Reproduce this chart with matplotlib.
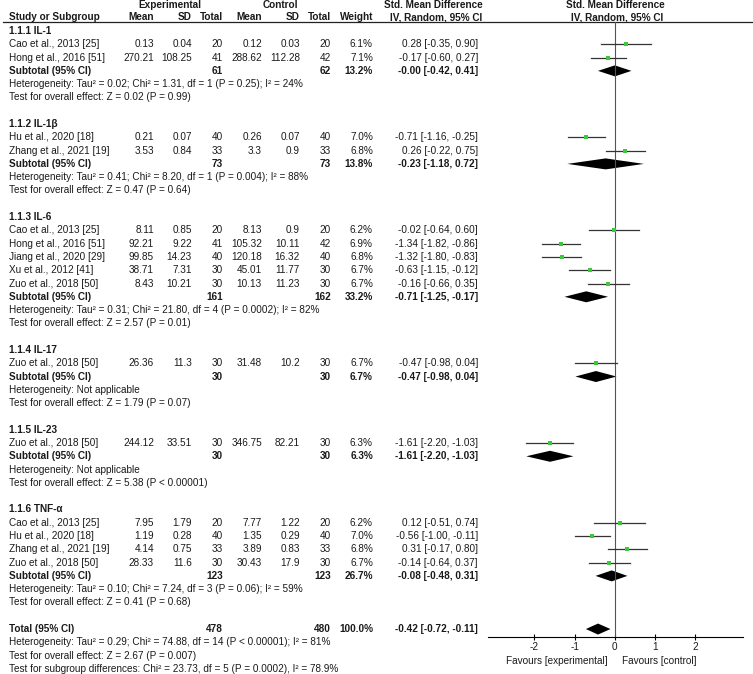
import numpy as np
import matplotlib.pyplot as plt

plt.rcParams['font.family'] = ['Liberation Sans', 'DejaVu Sans']

# subgroup data
grp_names = ['1.1.1 IL-1', '1.1.2 IL-1β', '1.1.3 IL-6', '1.1.4 IL-17', '1.1.5 IL-23', '1.1.6 TNF-α']
grp_n_exp = [61, 73, 161, 30, 30, 123]
grp_n_ctl = [62, 73, 162, 30, 30, 123]
grp_weight = [13.2, 13.8, 33.2, 6.7, 6.3, 26.7]
grp_smd = [-0.0, -0.23, -0.71, -0.47, -1.61, -0.08]
grp_lo = [-0.42, -1.18, -1.25, -0.98, -2.20, -0.48]
grp_hi = [0.41, 0.72, -0.17, 0.04, -1.03, 0.31]
grp_het = [
    'Heterogeneity: Tau² = 0.02; Chi² = 1.31, df = 1 (P = 0.25); I² = 24%',
    'Heterogeneity: Tau² = 0.41; Chi² = 8.20, df = 1 (P = 0.004); I² = 88%',
    'Heterogeneity: Tau² = 0.31; Chi² = 21.80, df = 4 (P = 0.0002); I² = 82%',
    'Heterogeneity: Not applicable',
    'Heterogeneity: Not applicable',
    'Heterogeneity: Tau² = 0.10; Chi² = 7.24, df = 3 (P = 0.06); I² = 59%',
]
grp_z = [
    'Test for overall effect: Z = 0.02 (P = 0.99)',
    'Test for overall effect: Z = 0.47 (P = 0.64)',
    'Test for overall effect: Z = 2.57 (P = 0.01)',
    'Test for overall effect: Z = 1.79 (P = 0.07)',
    'Test for overall effect: Z = 5.38 (P < 0.00001)',
    'Test for overall effect: Z = 0.41 (P = 0.68)',
]

# study data
study = ['Cao et al., 2013 [25]', 'Hong et al., 2016 [51]',
         'Hu et al., 2020 [18]', 'Zhang et al., 2021 [19]',
         'Cao et al., 2013 [25]', 'Hong et al., 2016 [51]', 'Jiang et al., 2020 [29]',
         'Xu et al., 2012 [41]', 'Zuo et al., 2018 [50]',
         'Zuo et al., 2018 [50]',
         'Zuo et al., 2018 [50]',
         'Cao et al., 2013 [25]', 'Hu et al., 2020 [18]', 'Zhang et al., 2021 [19]',
         'Zuo et al., 2018 [50]']
group = [0, 0, 1, 1, 2, 2, 2, 2, 2, 3, 4, 5, 5, 5, 5]
exp_mean = [0.13, 270.21, 0.21, 3.53, 8.11, 92.21, 99.85, 38.71, 8.43, 26.36, 244.12, 7.95, 1.19, 4.14, 28.33]
exp_sd = [0.04, 108.25, 0.07, 0.84, 0.85, 9.22, 14.23, 7.31, 10.21, 11.3, 33.51, 1.79, 0.28, 0.75, 11.6]
exp_n = [20, 41, 40, 33, 20, 41, 40, 30, 30, 30, 30, 20, 40, 33, 30]
ctl_mean = [0.12, 288.62, 0.26, 3.3, 8.13, 105.32, 120.18, 45.01, 10.13, 31.48, 346.75, 7.77, 1.35, 3.89, 30.43]
ctl_sd = [0.03, 112.28, 0.07, 0.9, 0.9, 10.11, 16.32, 11.77, 11.23, 10.2, 82.21, 1.22, 0.29, 0.83, 17.9]
ctl_n = [20, 42, 40, 33, 20, 42, 40, 30, 30, 30, 30, 20, 40, 33, 30]
weight = [6.1, 7.1, 7.0, 6.8, 6.2, 6.9, 6.8, 6.7, 6.7, 6.7, 6.3, 6.2, 7.0, 6.8, 6.7]
smd = [0.28, -0.17, -0.71, 0.26, -0.02, -1.34, -1.32, -0.63, -0.16, -0.47, -1.61, 0.12, -0.56, 0.31, -0.14]
lo = [-0.35, -0.60, -1.16, -0.22, -0.64, -1.82, -1.80, -1.15, -0.66, -0.98, -2.20, -0.51, -1.00, -0.17, -0.64]
hi = [0.90, 0.27, -0.25, 0.75, 0.60, -0.86, -0.83, -0.12, 0.35, 0.04, -1.03, 0.74, -0.11, 0.80, 0.37]

# overall
tot_n_exp, tot_n_ctl, tot_weight = 478, 480, 100.0
tot_smd, tot_lo, tot_hi = -0.42, -0.72, -0.11
tot_lines = ['Heterogeneity: Tau² = 0.29; Chi² = 74.88, df = 14 (P < 0.00001); I² = 81%',
             'Test for overall effect: Z = 2.67 (P = 0.007)',
             'Test for subgroup differences: Chi² = 23.73, df = 5 (P = 0.0002), I² = 78.9%']

ticks = [-2, -1, 0, 1, 2]

W, H = 753, 674
fs = 7.2
txt = '#1a1a1a'
fig = plt.figure(figsize=(W / 100, H / 100), dpi=100)
ax = fig.add_axes([0, 0, 1, 1])
ax.set_xlim(0, W)
ax.set_ylim(H, 0)
ax.axis('off')

y_top, y_axis = 22, 637
axp = fig.add_axes([488 / W, (H - y_axis) / H, (743 - 488) / W, (y_axis - y_top) / H])
axp.set_xlim(-3.15, 3.18)
axp.set_ylim(y_axis, y_top)
axp.patch.set_alpha(0)
for s in ['top', 'left', 'right']:
    axp.spines[s].set_visible(False)
axp.spines['bottom'].set_linewidth(0.8)
axp.set_yticks([])
axp.set_xticks(ticks)
axp.set_xticklabels([str(t) for t in ticks])
axp.tick_params(axis='x', direction='inout', length=5, width=0.8, labelsize=fs, pad=1, labelcolor=txt)
axp.axvline(0, color='#555555', lw=0.8)

# columns (right edges)
cx = {'mean1': 154, 'sd1': 192, 'n1': 223, 'mean2': 262, 'sd2': 300, 'n2': 331, 'w': 373, 'ci': 478}

def t(x, y, s, ha='left', bold=False):
    ax.text(x, y, s, ha=ha, va='center', fontsize=fs, color=txt,
            fontweight='bold' if bold else 'normal')

# header
t(170, 5, 'Experimental', 'center', True)
t(280, 5, 'Control', 'center', True)
t(433, 5, 'Std. Mean Difference', 'center', True)
t(615, 5, 'Std. Mean Difference', 'center', True)
t(9, 17, 'Study or Subgroup', bold=True)
for k, lab in [('mean1', 'Mean'), ('sd1', 'SD'), ('n1', 'Total'), ('mean2', 'Mean'),
               ('sd2', 'SD'), ('n2', 'Total'), ('w', 'Weight')]:
    t(cx[k], 17, lab, 'right', True)
t(436, 17, 'IV, Random, 95% CI', 'center', True)
t(617, 17, 'IV, Random, 95% CI', 'center', True)
ax.plot([3, W], [y_top, y_top], color='#222222', lw=0.9)

def ci_str(v, a, b):
    return f'{v:.2f} [{a:.2f}, {b:.2f}]'

def diamond(y, v, a, b, h=5.5):
    axp.fill([a, v, b, v], [y, y - h, y, y + h], color='black', lw=0)

y0, step = 31, 13.29
i = 0
for g in range(len(grp_names)):
    t(9, y0 + i * step, grp_names[g], bold=True)
    i += 1
    for k in [j for j in range(len(study)) if group[j] == g]:
        y = y0 + i * step
        t(9, y, study[k])
        t(cx['mean1'], y, str(exp_mean[k]), 'right')
        t(cx['sd1'], y, str(exp_sd[k]), 'right')
        t(cx['n1'], y, str(exp_n[k]), 'right')
        t(cx['mean2'], y, str(ctl_mean[k]), 'right')
        t(cx['sd2'], y, str(ctl_sd[k]), 'right')
        t(cx['n2'], y, str(ctl_n[k]), 'right')
        t(cx['w'], y, f'{weight[k]:.1f}%', 'right')
        t(cx['ci'], y, ci_str(smd[k], lo[k], hi[k]), 'right')
        axp.plot([lo[k], hi[k]], [y, y], color='#333333', lw=0.9)
        axp.plot(smd[k], y, 's', color='#3cc83c', ms=2.3 * np.sqrt(weight[k] / 6.7), mew=0)
        i += 1
    y = y0 + i * step
    t(9, y, 'Subtotal (95% CI)', bold=True)
    t(cx['n1'], y, str(grp_n_exp[g]), 'right', True)
    t(cx['n2'], y, str(grp_n_ctl[g]), 'right', True)
    t(cx['w'], y, f'{grp_weight[g]:.1f}%', 'right', True)
    t(cx['ci'], y, ci_str(grp_smd[g], grp_lo[g], grp_hi[g]), 'right', True)
    diamond(y, grp_smd[g], grp_lo[g], grp_hi[g])
    i += 1
    t(9, y0 + i * step, grp_het[g])
    i += 1
    t(9, y0 + i * step, grp_z[g])
    i += 2

y = y0 + i * step
t(9, y, 'Total (95% CI)', bold=True)
t(cx['n1'], y, str(tot_n_exp), 'right', True)
t(cx['n2'], y, str(tot_n_ctl), 'right', True)
t(cx['w'], y, f'{tot_weight:.1f}%', 'right', True)
t(cx['ci'], y, ci_str(tot_smd, tot_lo, tot_hi), 'right', True)
diamond(y, tot_smd, tot_lo, tot_hi)
for line in tot_lines:
    i += 1
    t(9, y0 + i * step, line)

axp.text(-0.17, 661, 'Favours [experimental]', ha='right', va='center', fontsize=fs,
         color=txt, clip_on=False)
axp.text(0.17, 661, 'Favours [control]', ha='left', va='center', fontsize=fs,
         color=txt, clip_on=False)

fig.savefig('out.png', dpi=100)
